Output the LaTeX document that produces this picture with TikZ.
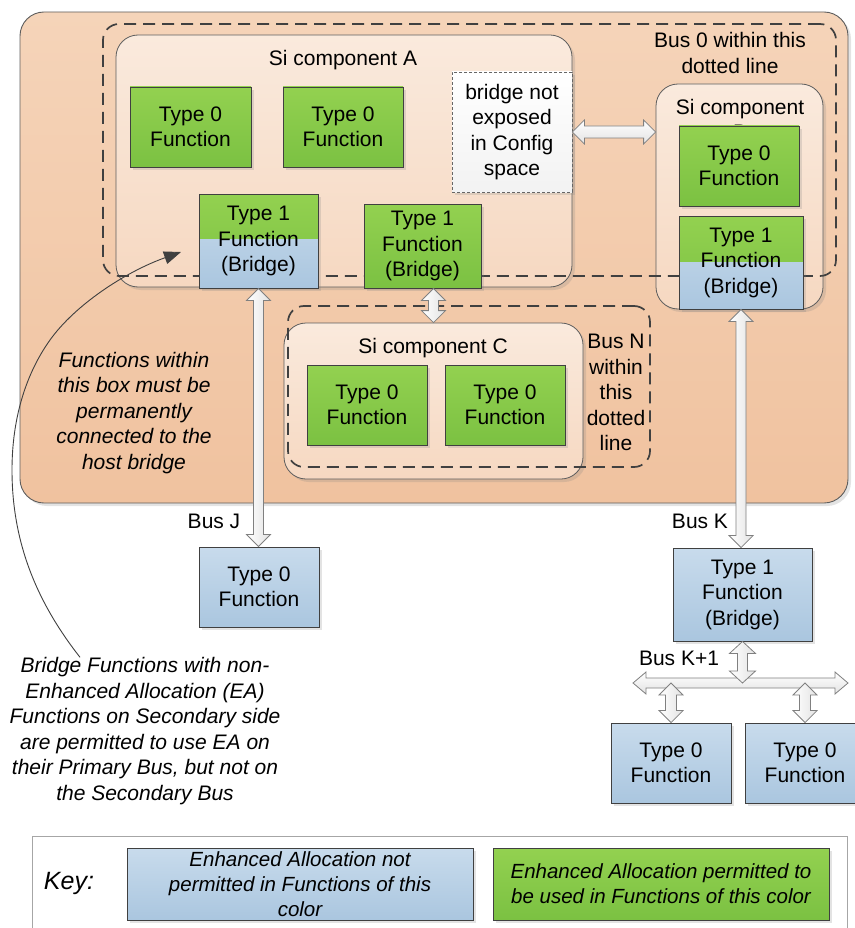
\documentclass[tikz,border=0pt]{standalone}
\usepackage{fontspec}
\setmainfont{Liberation Sans}
\usetikzlibrary{arrows.meta,shadows,calc}
\definecolor{orT}{HTML}{F5D4B9}
\definecolor{orB}{HTML}{F0C29F}
\definecolor{siT}{HTML}{FAEADD}
\definecolor{siB}{HTML}{F6D8C1}
\definecolor{gT}{HTML}{93D150}
\definecolor{gB}{HTML}{7BC142}
\definecolor{bT}{HTML}{C8DBEC}
\definecolor{bB}{HTML}{AAC6DF}
\definecolor{edge}{HTML}{404040}
\definecolor{arr}{HTML}{808080}
\tikzset{
 base/.style={font=\fontsize{21}{25.5}\selectfont, align=center, inner sep=0pt},
 itbase/.style={font=\fontsize{21}{25.5}\selectfont\itshape, align=center, inner sep=0pt},
 shad/.style={drop shadow={shadow xshift=3pt, shadow yshift=-3pt, opacity=0.22}},
 fnbox/.style={base, draw=edge, line width=0.9pt, shad},
 greenfill/.style={top color=gT, bottom color=gB},
 bluefill/.style={top color=bT, bottom color=bB},
 sicomp/.style={draw=edge!85, line width=0.8pt, rounded corners=22pt, top color=siT, bottom color=siB, shad},
 busregion/.style={draw=edge, line width=1.7pt, dash pattern=on 12pt off 7pt, rounded corners=16pt, inner sep=0pt},
 varrow/.style={draw=arr, line width=0.8pt, left color=white, right color=gray!22},
 harrow/.style={draw=arr, line width=0.8pt, top color=white, bottom color=gray!22},
}
\newcommand\vdarrow[5]{%
 \path[varrow] let \p1=(#1), \p2=(#2) in
 (\x1,\y1) -- (\x1+#4,\y1-#5) -- (\x1+#3,\y1-#5) -- (\x1+#3,\y2+#5) -- (\x1+#4,\y2+#5) -- (\x1,\y2) -- (\x1-#4,\y2+#5) -- (\x1-#3,\y2+#5) -- (\x1-#3,\y1-#5) -- (\x1-#4,\y1-#5) -- cycle;}
\newcommand\hdarrow[5]{%
 \path[harrow] let \p1=(#1), \p2=(#2) in
 (\x1,\y1) -- (\x1+#5,\y1+#4) -- (\x1+#5,\y1+#3) -- (\x2-#5,\y1+#3) -- (\x2-#5,\y1+#4) -- (\x2,\y1) -- (\x2-#5,\y1-#4) -- (\x2-#5,\y1-#3) -- (\x1+#5,\y1-#3) -- (\x1+#5,\y1-#4) -- cycle;}
\begin{document}
\begin{tikzpicture}[x=1pt,y=-1pt]
\useasboundingbox (0,0) rectangle (854,928);
% outer orange region
\node[draw=edge!85, line width=0.9pt, rounded corners=24pt, top color=orT, bottom color=orB, minimum width=828pt, minimum height=491pt, inner sep=0pt, shad] (outer) at (434,257.5) {};
% Si components
\node[sicomp, minimum width=456pt, minimum height=252pt, inner sep=0pt] (siA) at (344,161) {};
\node[sicomp, minimum width=167pt, minimum height=225pt, inner sep=0pt] (siBc) at (739.5,196.5) {};
\node[sicomp, minimum width=299pt, minimum height=156pt, inner sep=0pt] (siC) at (433.5,401) {};
\node[base] (tA) at (343,60) {Si component A};
\node[base, anchor=north] (tB) at (740,99) {Si component\\B};
\node[base] (tC) at (433,348) {Si component C};
% dashed bus regions
\node[busregion, minimum width=733pt, minimum height=252pt] (bus0) at (469.5,150) {};
\node[busregion, minimum width=362pt, minimum height=161pt] (busN) at (469,386.5) {};
\node[base] (bus0t) at (730,53) {Bus 0 within this\\dotted line};
\node[base] (busNt) at (616,392.5) {Bus N\\within\\this\\dotted\\line};
% config box
\node[base, draw=edge!80, line width=0.8pt, dash pattern=on 3pt off 2pt, top color=white, bottom color=gray!10, minimum width=120pt, minimum height=120pt, shad] (cfg) at (512,132) {bridge not\\exposed\\in Config\\space};
% function boxes
\node[fnbox, greenfill, minimum width=121pt, minimum height=80pt] (tA1) at (190.5,127) {Type 0\\Function};
\node[fnbox, greenfill, minimum width=120pt, minimum height=80pt] (tA2) at (343,127) {Type 0\\Function};
\node[fnbox, bluefill, minimum width=119pt, minimum height=94pt,
  path picture={\shade[top color=gT, bottom color=gB] (path picture bounding box.north west) rectangle ([yshift=-44pt]path picture bounding box.north east);}] (bA) at (258.5,241) {Type 1\\Function\\(Bridge)};
\node[fnbox, greenfill, minimum width=117pt, minimum height=84pt] (bA2) at (422.5,246) {Type 1\\Function\\(Bridge)};
\node[fnbox, greenfill, minimum width=120pt, minimum height=80pt] (t0B) at (739,166) {Type 0\\Function};
\node[fnbox, bluefill, minimum width=124pt, minimum height=93pt,
  path picture={\shade[top color=gT, bottom color=gB] (path picture bounding box.north west) rectangle ([yshift=-45pt]path picture bounding box.north east);}] (bB) at (741,262.5) {Type 1\\Function\\(Bridge)};
\node[fnbox, greenfill, minimum width=120pt, minimum height=80pt] (tC1) at (367,405) {Type 0\\Function};
\node[fnbox, greenfill, minimum width=120pt, minimum height=80pt] (tC2) at (505,405) {Type 0\\Function};
\node[fnbox, bluefill, minimum width=120pt, minimum height=80pt] (tJ) at (259,587) {Type 0\\Function};
\node[fnbox, bluefill, minimum width=139pt, minimum height=93pt] (tK) at (742.5,594.5) {Type 1\\Function\\(Bridge)};
\node[fnbox, bluefill, minimum width=120pt, minimum height=80pt] (t0L) at (671,763) {Type 0\\Function};
\node[fnbox, bluefill, minimum width=120pt, minimum height=80pt] (t0R) at (805,763) {Type 0\\Function};
% block arrows
\hdarrow{cfg.east}{siBc.west |- cfg.east}{6pt}{12pt}{12pt}
\vdarrow{siC.north |- bA2.south}{siC.north}{5pt}{12pt}{12pt}
\vdarrow{bA.south}{tJ.north}{5pt}{12pt}{12pt}
\vdarrow{bB.south}{bB.south |- tK.north}{5pt}{12pt}{12pt}
\coordinate (busL) at (633,683);
\coordinate (busR) at (848,683);
\hdarrow{busL}{busR}{5pt}{11pt}{13pt}
\vdarrow{tK.south}{tK.south |- busL}{5pt}{13pt}{12pt}
\vdarrow{t0L.north |- busL}{t0L.north}{5.5pt}{12pt}{12pt}
\vdarrow{t0R.north |- busL}{t0R.north}{5.5pt}{12pt}{12pt}
% bus labels
\node[base] (lJ) at (214,521) {Bus J};
\node[base] (lK) at (700,521) {Bus K};
\node[base] (lK1) at (679,658) {Bus K+1};
% notes
\node[itbase] (noteA) at (134,413) {Functions within\\this box must be\\permanently\\connected to the\\host bridge};
\node[itbase] (noteB) at (145,731) {Bridge Functions with non-\\Enhanced Allocation (EA)\\Functions on Secondary side\\are permitted to use EA on\\their Primary Bus, but not on\\the Secondary Bus};
\coordinate (cs) at ([xshift=-65pt]noteB.north);
\coordinate (ctip) at (181,252);
\draw[draw=edge, line width=0.9pt, -{Triangle[length=17pt,width=13pt]}] (cs) .. controls (35,600) and (12,540) .. (12,470) .. controls (12,420) and (25,375) .. (50,340) .. controls (75,305) and (125,272) .. (ctip);
% key
\node[draw=gray!70, line width=0.9pt, fill=white, minimum width=815pt, minimum height=104pt, inner sep=0pt] (key) at (439.5,888) {};
\node[font=\fontsize{25}{30}\selectfont\itshape, inner sep=0pt] (keyt) at (69,883) {Key:};
\node[fnbox, bluefill, font=\fontsize{20.5}{25}\selectfont\itshape, minimum width=346pt, minimum height=72pt] (keyB) at (300,884) {Enhanced Allocation not\\permitted in Functions of this\\color};
\node[fnbox, greenfill, font=\fontsize{20.5}{25}\selectfont\itshape, minimum width=336pt, minimum height=72pt] (keyG) at (661,884) {Enhanced Allocation permitted to\\be used in Functions of this color};
\end{tikzpicture}
\end{document}
